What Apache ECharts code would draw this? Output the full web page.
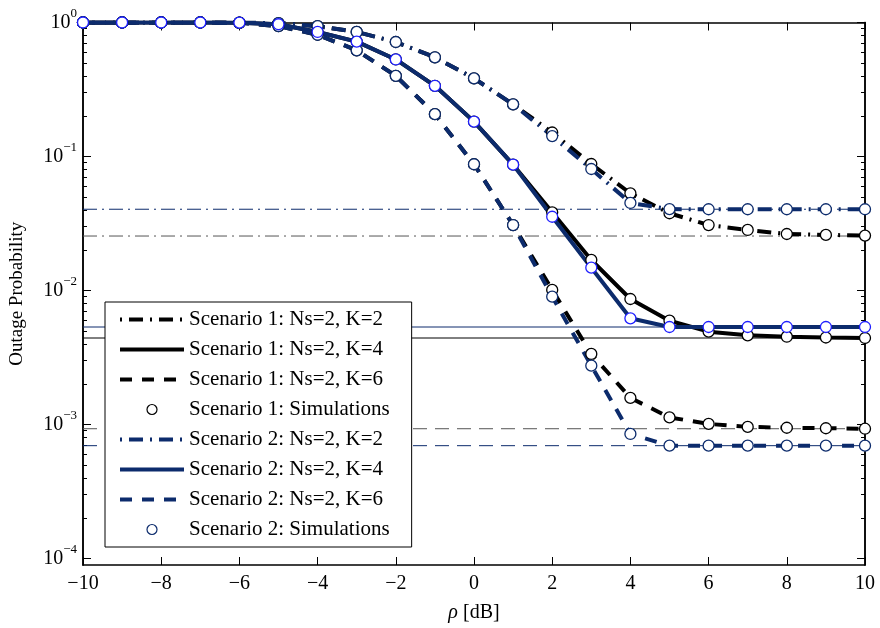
<!DOCTYPE html>
<html>
<head>
<meta charset="utf-8">
<script src="https://cdn.jsdelivr.net/npm/echarts@6/dist/echarts.min.js"></script>
<style>
html,body{margin:0;padding:0;background:#fff;}
#c{width:880px;height:628px;}
</style>
</head>
<body>
<div id="c"></div>
<script>
// ---- data ----
const rho = [-10,-9,-8,-7,-6,-5,-4,-3,-2,-1,0,1,2,3,4,5,6,7,8,9,10];
const s1K2 = [1,1,1,1,0.998,0.99,0.94,0.85,0.715,0.55,0.383,0.245,0.151,0.0879,0.0531,0.0377,0.0308,0.0283,0.0264,0.0260,0.0257];
const s1K4 = [1,1,1,1,0.997,0.97,0.85,0.72,0.53,0.337,0.182,0.0869,0.0383,0.0169,0.00864,0.00595,0.00493,0.00463,0.00452,0.00446,0.00442];
const s1K6 = [1,1,1,1,0.995,0.94,0.81,0.62,0.40,0.207,0.0875,0.0308,0.0101,0.00336,0.00158,0.00113,0.00101,0.00096,0.000946,0.000938,0.00093];
const s2K2 = [1,1,1,1,0.998,0.99,0.94,0.85,0.715,0.55,0.383,0.245,0.142,0.0807,0.045,0.0405,0.0404,0.0404,0.0404,0.0404,0.0404];
const s2K4 = [1,1,1,1,0.997,0.97,0.85,0.72,0.53,0.337,0.182,0.0869,0.0355,0.0148,0.0062,0.00534,0.00534,0.00534,0.00534,0.00534,0.00534];
const s2K6 = [1,1,1,1,0.995,0.94,0.81,0.62,0.40,0.207,0.0875,0.0308,0.0090,0.00275,0.00085,0.000695,0.000695,0.000695,0.000695,0.000695,0.000695];
// asymptotic floors (K=2, K=4, K=6)
const floorS1 = [0.0255, 0.00442, 0.00093];
const floorS2 = [0.0404, 0.00534, 0.000695];
const names = ['Scenario 1: Ns=2, K=2','Scenario 1: Ns=2, K=4','Scenario 1: Ns=2, K=6','Scenario 1: Simulations',
               'Scenario 2: Ns=2, K=2','Scenario 2: Ns=2, K=4','Scenario 2: Ns=2, K=6','Scenario 2: Simulations'];
const xTicks = [-10,-8,-6,-4,-2,0,2,4,6,8,10];
const yMajor = [1e-4,1e-3,1e-2,1e-1,1];
const yAxisTitle = 'Outage Probability';
const xAxisTitle = '[dB]';

// ---- helpers ----
const FONT = 'Liberation Serif';
const BLACK = '#000000', NAVY = '#0c2b6c', BLUE = '#1f1fff', GRAY = '#555555';
const DASHDOT = [2,7,14,7], DASH = [12,10];
const LW = 4;
const pairs = arr => rho.map((x,i)=>[x,arr[i]]);
const yMin = Math.pow(10,-4.0485);
const yMinor = [];
for (let e=-4; e<0; e++) for (let k=2; k<=9; k++) yMinor.push(k*Math.pow(10,e));

function curve(name, arr, color, type){
  return {name, type:'line', data:pairs(arr), symbol:'none', showSymbol:false,
    lineStyle:{color, width:LW, type}, itemStyle:{color}, z:3, animation:false};
}
function sims(name, arrs, color, z){
  let d=[]; arrs.forEach(a=>{d=d.concat(pairs(a));});
  return {name, type:'scatter', data:d, symbol:'circle', symbolSize:11,
    itemStyle:{color:'#fff', borderColor:color, borderWidth:1.3, opacity:1}, z, animation:false};
}
function floorLine(v, color, type){
  return {type:'line', data:[[rho[0],v],[rho[rho.length-1],v]], symbol:'none',
    lineStyle:{color, width:1, type}, z:1, silent:true, animation:false};
}
const supLabel = v => {
  const e = Math.round(Math.log10(v));
  return '{b|10}{s|' + (e<0?'\u2212'+(-e):e) + '}';
};
const yAxisBase = (pos, values, len, labels) => ({
  type:'log', logBase:10, min:yMin, max:1, position:pos, gridIndex:0,
  axisLine:{show:true, onZero:false, lineStyle:{color:'#000', width:1.5}},
  axisTick:{show:true, inside:true, length:len, customValues:values, lineStyle:{color:'#000', width:1}},
  axisLabel:{show:labels, customValues:values, formatter:supLabel, margin:6,
    rich:{b:{fontFamily:FONT, fontSize:20, color:'#000', lineHeight:30},
          s:{fontFamily:FONT, fontSize:13, color:'#000', verticalAlign:'top', lineHeight:13}}},
  splitLine:{show:false}, minorTick:{show:false}
});
const lineLegend = (n, color, type) => ({name:n, itemStyle:{opacity:0}, lineStyle:{width:LW, color, type}});

const option = {
  backgroundColor:'#fff',
  animation:false,
  grid:{left:82, right:15, top:22.5, bottom:63, containLabel:false},
  xAxis:[
    {type:'value', min:-10, max:10, interval:2, position:'bottom',
     axisLine:{show:true, onZero:false, lineStyle:{color:'#000', width:1.5}},
     axisTick:{show:true, inside:true, length:8, lineStyle:{color:'#000'}},
     axisLabel:{fontFamily:FONT, fontSize:20, color:'#000', margin:9,
       formatter:v=> v<0 ? '\u2212'+Math.abs(v) : String(v)},
     splitLine:{show:false},
     name:'{r|\u03c1} ' + xAxisTitle, nameLocation:'middle', nameGap:38,
     nameTextStyle:{fontFamily:FONT, fontSize:20, color:'#000',
       rich:{r:{fontFamily:FONT, fontStyle:'italic', fontSize:20, color:'#000'}}}},
    {type:'value', min:-10, max:10, interval:2, position:'top',
     axisLine:{show:true, onZero:false, lineStyle:{color:'#000', width:1.5}},
     axisTick:{show:true, inside:true, length:8, lineStyle:{color:'#000'}},
     axisLabel:{show:false}, splitLine:{show:false}}
  ],
  yAxis:[
    Object.assign(yAxisBase('left', yMajor, 8, true), {
      name:yAxisTitle, nameLocation:'middle', nameGap:56, nameRotate:90,
      nameTextStyle:{fontFamily:FONT, fontSize:19, color:'#000'}}),
    yAxisBase('left', yMinor, 4, false),
    yAxisBase('right', yMajor, 8, false),
    yAxisBase('right', yMinor, 4, false)
  ],
  legend:{
    orient:'vertical', left:105, top:302, backgroundColor:'#fff', borderColor:'#000',
    borderWidth:1, borderRadius:0, padding:[7,22,7,13], itemWidth:64, itemHeight:10, itemGap:9,
    textStyle:{fontFamily:FONT, fontSize:21, color:'#000'},
    data:[
      lineLegend(names[0], BLACK, DASHDOT),lineLegend(names[1], BLACK, 'solid'),lineLegend(names[2], BLACK, DASH),
      {name:names[3], icon:'circle', itemStyle:{color:'#fff', borderColor:BLACK, borderWidth:1.2}},
      lineLegend(names[4], NAVY, DASHDOT),lineLegend(names[5], NAVY, 'solid'),lineLegend(names[6], NAVY, DASH),
      {name:names[7], icon:'circle', itemStyle:{color:'#fff', borderColor:NAVY, borderWidth:1.2}}
    ],
    selectedMode:false, z:20
  },
  series:[
    floorLine(floorS1[0], GRAY, [14,5,2,5]),
    floorLine(floorS2[0], NAVY, [14,5,2,5]),
    floorLine(floorS1[1], BLACK, 'solid'),
    floorLine(floorS2[1], NAVY, 'solid'),
    floorLine(floorS1[2], GRAY, [14,8]),
    floorLine(floorS2[2], NAVY, [14,8]),
    curve(names[0], s1K2, BLACK, DASHDOT),
    curve(names[1], s1K4, BLACK, 'solid'),
    curve(names[2], s1K6, BLACK, DASH),
    sims(names[3], [s1K2, s1K4, s1K6], BLACK, 4),
    curve(names[4], s2K2, NAVY, DASHDOT),
    curve(names[5], s2K4, NAVY, 'solid'),
    curve(names[6], s2K6, NAVY, DASH),
    sims(names[7], [s2K2, s2K6], NAVY, 5),
    sims(names[7], [s2K4], BLUE, 5)
  ]
};
const chart = echarts.init(document.getElementById('c'), null, {renderer:'canvas'});
chart.setOption(option);
</script>
</body>
</html>
